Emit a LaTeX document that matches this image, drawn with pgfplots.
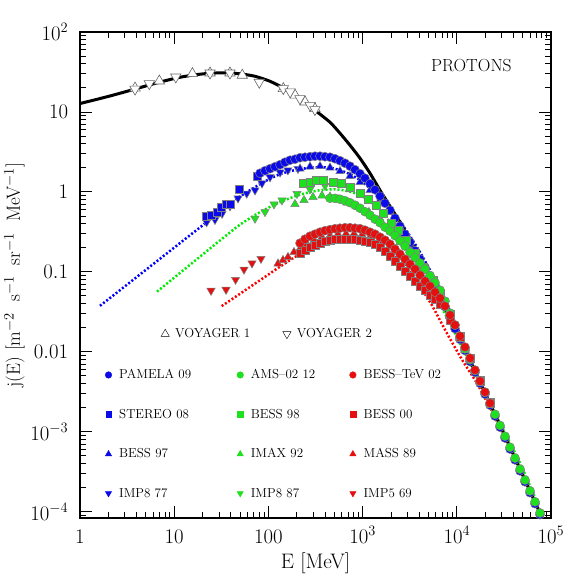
\documentclass[border=0pt]{standalone}
\usepackage{pgfplots}
\pgfplotsset{compat=1.18}
\definecolor{cB}{RGB}{10,10,235}
\definecolor{cG}{RGB}{30,225,30}
\definecolor{cR}{RGB}{230,15,15}
\definecolor{dB}{RGB}{0,0,255}
\definecolor{dG}{RGB}{0,235,0}
\definecolor{dR}{RGB}{255,0,0}
\pgfplotsset{
 dotline/.style={#1, line width=2.5pt, dash pattern=on 2pt off 2pt, smooth, tension=0.5, forget plot},
 mcirc/.style={only marks, forget plot, mark=*, mark size=4.5pt, mark options={fill=#1, draw=gray, line width=0.5pt}},
 msqr/.style={only marks, forget plot, mark=square*, mark size=4pt, mark options={fill=#1, draw=gray, line width=0.5pt}},
 mtup/.style={only marks, forget plot, mark=triangle*, mark size=4.8pt, mark options={fill=#1, draw=gray, line width=0.5pt}},
 mtdn/.style={only marks, forget plot, mark=triangle*, mark size=4.8pt, mark options={fill=#1, draw=gray, line width=0.5pt, rotate=180}},
}
\begin{document}
\begin{tikzpicture}
\begin{axis}[name=main,
 width=471pt, height=486pt, scale only axis, xmode=log, ymode=log,
 xmin=1, xmax=1e5, ymin=8.34e-5, ymax=100,
 xtick={1,10,100,1000,10000,100000},
 xticklabels={$1$,$10$,$100$,$10^3$,$10^4$,$10^5$},
 minor xtick={2,3,4,5,6,7,8,9,20,30,40,50,60,70,80,90,200,300,400,500,600,700,800,900,2000,3000,4000,5000,6000,7000,8000,9000,20000,30000,40000,50000,60000,70000,80000,90000},
 ytick={1e-4,1e-3,0.01,0.1,1,10,100},
 yticklabels={$10^{-4}$,$10^{-3}$,$0.01$,$0.1$,$1$,$10$,$10^2$},
 minor ytick={9e-5,2e-4,3e-4,4e-4,5e-4,6e-4,7e-4,8e-4,9e-4,2e-3,3e-3,4e-3,5e-3,6e-3,7e-3,8e-3,9e-3,0.02,0.03,0.04,0.05,0.06,0.07,0.08,0.09,0.2,0.3,0.4,0.5,0.6,0.7,0.8,0.9,2,3,4,5,6,7,8,9,20,30,40,50,60,70,80,90},
 tick align=inside,
 major tick length=12pt, minor tick length=6pt,
 every tick/.style={black, line width=0.9pt},
 axis line style={line width=1.2pt},
 tick label style={font=\fontsize{21}{25}\selectfont, inner sep=0pt},
 xticklabel style={anchor=base, yshift=-25pt},
 yticklabel style={anchor=east, xshift=-11.7pt},
 xlabel={E [MeV]},
 ylabel={j(E) [m$^{-2}$\; s$^{-1}$\; sr$^{-1}$\; MeV$^{-1}$]},
 xlabel style={at={(axis description cs:0.5,-0.103)}, anchor=base, font=\fontsize{21}{25}\selectfont, inner sep=0pt},
 ylabel style={at={(axis description cs:-0.1274,0.5)}, anchor=base, font=\fontsize{19}{23}\selectfont, inner sep=0pt},
 legend columns=3,
 legend image code/.code={\path[draw=none, fill=none] (0pt,0pt) -- (12.7pt,0pt); \draw[#1] plot coordinates {(4pt,0pt)};},
 legend style={draw=none, fill=none, inner sep=0pt, font=\fontsize{13}{15}\selectfont, row sep=24.8pt, column sep=0pt,
   at={(axis description cs:0.0516,0.3099)}, anchor=north west, cells={anchor=west}},
]
% modulated model spectra (dotted)
\addplot[dotline=dB] coordinates {(1.630,0.0376) (2.658,0.0590) (4.335,0.0928) (7.068,0.1458) (11.52,0.2291) (18.79,0.3599) (30.63,0.5656) (46.42,0.827) (63.78,1.050) (81.44,1.248) (104.0,1.462) (132.8,1.664) (169.6,1.815) (216.5,1.922) (276.4,2.007) (353.0,2.036) (450.7,2.007) (575.6,1.867) (734.9,1.664) (938.5,1.400) (1198,1.112) (1530,0.8584) (1954,0.6255) (2495,0.4302) (3186,0.2795) (4068,0.1763) (5194,0.105) (6632,0.0608) (8469,0.0323) (10810,0.01664) (13810,0.00834) (17630,0.00430) (22510,0.00228) (28750,0.00121) (36720,6.44e-4) (46880,3.42e-4) (59850,1.81e-4) (72780,1.11e-4)};
\addplot[dotline=dG] coordinates {(6.568,0.0566) (11.52,0.0969) (18.79,0.1549) (30.63,0.2469) (49.95,0.389) (81.44,0.558) (132.8,0.7434) (216.5,0.9226) (353.0,1.050) (575.6,1.065) (938.5,0.9093) (1530,0.590) (2495,0.2795) (4068,0.1112) (6632,0.0395) (10810,0.01284) (17630,0.00406) (28750,0.00128) (46880,4.06e-4) (69310,1.40e-4)};
\addplot[dotline=dR] coordinates {(31.93,0.0373) (49.95,0.0532) (81.44,0.0785) (132.8,0.1161) (216.5,0.1665) (353.0,0.2157) (575.6,0.2527) (938.5,0.2489) (1530,0.2065) (2495,0.140) (3428,0.0866) (5194,0.0420) (7870,0.0170) (11640,0.00760) (16380,0.00403) (22510,0.00200) (32490,8.2e-4) (46880,3.4e-4) (67630,1.36e-4)};
% local interstellar spectrum
\addplot[black, line width=3pt, smooth, tension=0.4, forget plot] coordinates {(1,12.74) (1.277,13.69) (1.630,14.71) (2.083,15.85) (2.658,17.13) (3.837,19.33) (5.535,21.88) (7.987,24.55) (11.52,27.15) (16.63,29.17) (23.99,30.46) (34.62,30.90) (49.95,30.02) (72.07,27.94) (104.0,24.20) (150.1,19.50) (216.5,14.84) (312.4,10.50) (450.7,7.435) (575.6,5.418) (734.9,3.835) (938.5,2.638) (1198,1.713) (1530,1.050) (1954,0.6627) (2495,0.4181) (3186,0.2489) (4068,0.1483) (5194,0.0859) (6632,0.0483) (8469,0.0264) (10810,0.0144) (17630,0.00418) (28750,0.00121) (46880,3.42e-4) (76420,9.63e-5)};
% blue group
\addplot[mtdn=cB] coordinates {(22.1,0.418) (27.1,0.449) (32.2,0.534) (39.1,0.663) (47.6,0.834) (58.9,0.955) (72.1,1.05) (85.5,1.28) (104,1.53) (133,1.76) (161,1.87) (206,1.95)};
\addplot[msqr=cB] coordinates {(22.1,0.497) (25.0,0.511) (28.3,0.562) (31.9,0.649) (36.1,0.702) (39.1,0.702) (49.1,1.07) (76.2,1.57)};
\addplot[mtup=cB] coordinates {(216.5,1.950) (276.4,2.065) (353.0,2.096) (450.7,2.007) (575.6,1.815) (734.9,1.571) (938.5,1.322) (1198,1.050) (1530,0.787) (1954,0.558) (2495,0.352) (3186,0.216) (4068,0.132) (5194,0.0810) (6632,0.0497) (8469,0.0279) (10810,0.0148)};
\addplot[mcirc=cB] coordinates {(81.44,1.713) (92.02,1.841) (104.0,1.950) (117.5,2.065) (132.8,2.188) (150.1,2.351) (169.6,2.490) (191.6,2.563) (216.5,2.676) (244.6,2.715) (276.4,2.754) (312.4,2.794) (353.0,2.794) (398.9,2.754) (450.7,2.715) (509.3,2.600) (575.6,2.455) (650.4,2.284) (734.9,2.096) (830.5,1.894) (938.5,1.689) (1060,1.483) (1198,1.266) (1354,1.065) (1530,0.884) (1729,0.722) (1954,0.590) (2208,0.469) (2495,0.373) (2819,0.296) (3186,0.235) (3600,0.184) (4068,0.144) (4597,0.113) (5194,0.0884) (5870,0.0682) (6632,0.0526) (7495,0.0367) (8469,0.0267) (9570,0.0195) (10810,0.0143) (12220,0.0104) (13810,0.00756) (15600,0.00553) (17630,0.00403) (19930,0.00295) (22510,0.00215) (25440,0.00157) (28750,0.00114) (32490,8.35e-4) (36720,6.08e-4) (41490,4.45e-4) (46880,3.24e-4) (52970,2.37e-4) (59850,1.73e-4) (67630,1.26e-4) (76420,9.2e-5)};
% green group
\addplot[mtdn=cG] coordinates {(72.07,0.465) (92.02,0.562) (114.7,0.702) (139.4,0.787) (201.2,0.950) (276.4,1.081) (398.9,1.195)};
\addplot[mtup=cG] coordinates {(191.6,0.702) (238.8,0.787) (297.5,0.859) (370.7,0.897) (450.7,0.871) (548.1,0.810) (682.9,0.733) (893.7,0.644) (1169,0.558) (1530,0.462) (1954,0.342) (2495,0.235) (3186,0.162) (4068,0.105) (5194,0.0682) (6632,0.0443) (8892,0.0235) (12220,0.0105)};
\addplot[msqr=cG] coordinates {(234.7,1.274) (276.4,1.334) (325.6,1.380) (382.6,1.380) (485.1,1.303) (600.0,1.274) (734.9,1.155) (938.5,0.955) (1149,0.810) (1412,0.682) (1659,0.542) (2037,0.406) (2393,0.332) (2939,0.249) (3600,0.171) (4410,0.1155) (5629,0.0787) (6632,0.0542) (8469,0.0296) (10810,0.0157) (13810,0.00834) (17630,0.00443) (22510,0.00235)};
\addplot[mcirc=cG] coordinates {(450.7,0.834) (509.3,0.829) (575.6,0.810) (650.4,0.776) (734.9,0.733) (830.5,0.682) (938.5,0.625) (1060,0.566) (1198,0.511) (1354,0.456) (1530,0.412) (1729,0.362) (1954,0.323) (2208,0.284) (2495,0.245) (2819,0.210) (3186,0.176) (3600,0.150) (4068,0.129) (4597,0.108) (5194,0.0896) (5870,0.0733) (6632,0.0590) (7495,0.0430) (8469,0.0305) (9570,0.0216) (10810,0.0150) (12220,0.0109) (13810,0.00796) (15600,0.00582) (17630,0.00424) (19930,0.00310) (22510,0.00226) (25440,0.00165) (28750,0.00120) (32490,8.79e-4) (36720,6.40e-4) (41490,4.68e-4) (46880,3.41e-4) (52970,2.49e-4) (59850,1.82e-4) (67630,1.33e-4) (76420,9.66e-5)};
% red group
\addplot[mtdn=cR] coordinates {(24.6,0.0582) (35.5,0.0599) (44.8,0.0799) (55.1,0.107) (67.0,0.128) (83.4,0.146)};
\addplot[mtup=cR] coordinates {(126.5,0.1266) (142.9,0.140) (161.5,0.1527) (187.0,0.1763) (216.5,0.1950) (256.9,0.2220) (304.9,0.2489) (370.7,0.2716) (450.7,0.2836) (548.1,0.2960) (666.5,0.3003) (810.3,0.3003) (985.4,0.2917) (1198,0.2716) (1457,0.2418)};
\addplot[msqr=cR] coordinates {(216.5,0.1713) (244.6,0.187) (276.4,0.2036) (312.4,0.216) (353.0,0.2285) (398.9,0.2385) (450.7,0.2455) (509.3,0.2527) (575.6,0.2564) (650.4,0.2564) (734.9,0.2564) (830.5,0.2527) (938.5,0.2489) (1060,0.2418) (1198,0.2317) (1354,0.2220) (1530,0.2036) (1729,0.1789) (1954,0.1572) (2208,0.1361) (2495,0.1178) (2819,0.1020) (3186,0.0884) (3600,0.0754) (4068,0.0663) (4597,0.0582) (5194,0.0512) (5870,0.0449) (6632,0.0395) (8469,0.0249) (10810,0.01527) (13810,0.00834) (17630,0.00430) (22510,0.00228)};
\addplot[mcirc=cR] coordinates {(216.5,0.2285) (244.6,0.2564) (276.4,0.2795) (312.4,0.2960) (353.0,0.3135) (398.9,0.3273) (450.7,0.3370) (509.3,0.3467) (575.6,0.3518) (650.4,0.3569) (734.9,0.3569) (830.5,0.3518) (938.5,0.3467) (1060,0.332) (1198,0.3135) (1354,0.2960) (1530,0.2716) (1729,0.2489) (1954,0.2220) (2208,0.1922) (2495,0.1665) (2819,0.1441) (3186,0.1248) (3600,0.1081) (4068,0.0909) (4597,0.0765) (5194,0.0663) (5870,0.0557) (6632,0.0469) (7495,0.0373) (8469,0.0288) (9570,0.0216) (10810,0.0157) (12220,0.01145) (13810,0.00834) (15600,0.00591) (17630,0.00430) (19930,0.00313) (22510,0.00228)};
% legend
\addlegendimage{only marks, mark=*, mark size=3.3pt, mark options={fill=cB, draw=cB}}
\addlegendentry{\makebox[115pt][l]{PAMELA 09}}
\addlegendimage{only marks, mark=*, mark size=3.3pt, mark options={fill=cG, draw=cG}}
\addlegendentry{\makebox[96pt][l]{AMS\textendash 02 12}}
\addlegendimage{only marks, mark=*, mark size=3.3pt, mark options={fill=cR, draw=cR}}
\addlegendentry{\makebox[80pt][l]{BESS\textendash TeV 02}}
\addlegendimage{only marks, mark=square*, mark size=2.8pt, mark options={fill=cB, draw=cB}}
\addlegendentry{\makebox[115pt][l]{STEREO 08}}
\addlegendimage{only marks, mark=square*, mark size=2.8pt, mark options={fill=cG, draw=cG}}
\addlegendentry{\makebox[96pt][l]{BESS 98}}
\addlegendimage{only marks, mark=square*, mark size=2.8pt, mark options={fill=cR, draw=cR}}
\addlegendentry{\makebox[80pt][l]{BESS 00}}
\addlegendimage{only marks, mark=triangle*, mark size=3.6pt, mark options={fill=cB, draw=cB}}
\addlegendentry{\makebox[115pt][l]{BESS 97}}
\addlegendimage{only marks, mark=triangle*, mark size=3.6pt, mark options={fill=cG, draw=cG}}
\addlegendentry{\makebox[96pt][l]{IMAX 92}}
\addlegendimage{only marks, mark=triangle*, mark size=3.6pt, mark options={fill=cR, draw=cR}}
\addlegendentry{\makebox[80pt][l]{MASS 89}}
\addlegendimage{only marks, mark=triangle*, mark size=3.6pt, mark options={fill=cB, draw=cB, rotate=180}}
\addlegendentry{\makebox[115pt][l]{IMP8 77}}
\addlegendimage{only marks, mark=triangle*, mark size=3.6pt, mark options={fill=cG, draw=cG, rotate=180}}
\addlegendentry{\makebox[96pt][l]{IMP8 87}}
\addlegendimage{only marks, mark=triangle*, mark size=3.6pt, mark options={fill=cR, draw=cR, rotate=180}}
\addlegendentry{\makebox[80pt][l]{IMP5 69}}
\node[anchor=base, font=\fontsize{17.5}{20}\selectfont, inner sep=0pt] at (axis description cs:0.831,0.918) {PROTONS};
\end{axis}
\begin{axis}[at={(main.south west)}, anchor=south west, hide axis,
 width=471pt, height=486pt, scale only axis, xmode=log, ymode=log,
 xmin=1, xmax=1e5, ymin=8.34e-5, ymax=100,
 legend columns=2,
 legend image code/.code={\path[draw=none, fill=none] (0pt,0pt) -- (13pt,0pt); \draw[#1] plot coordinates {(5pt,0pt)};},
 legend style={draw=none, fill=none, inner sep=0pt, font=\fontsize{13}{15}\selectfont, column sep=0pt,
   at={(axis description cs:0.1699,0.3942)}, anchor=north west, cells={anchor=west}},
]
\addplot[only marks, forget plot, mark=triangle*, mark size=6pt, mark options={fill=white, draw=black!60, line width=0.6pt}] coordinates {(3.84,19.9) (6.95,24.4) (15.6,30.2) (24.0,30.7) (39.1,30.7) (52.8,28.8) (144,19.6) (192,16.2) (245,13.3) (312,11.0)};
\addplot[only marks, forget plot, mark=triangle*, mark size=6pt, mark options={fill=white, draw=black!60, line width=0.6pt, rotate=180}] coordinates {(3.84,19.3) (5.44,22.6) (10.4,27.4) (24.0,30.7) (39.1,30.7) (80.0,23.5) (144,19.6) (170,17.8) (216,14.7) (277,12.1) (312,10.7)};
\addlegendimage{only marks, mark=triangle, mark size=4.8pt, mark options={draw=black, line width=0.4pt}}
\addlegendentry{\makebox[104.7pt][l]{VOYAGER 1}}
\addlegendimage{only marks, mark=triangle, mark size=4.8pt, mark options={draw=black, line width=0.4pt, rotate=180}}
\addlegendentry{VOYAGER 2}
\end{axis}
\path (main.south west) ++(-80pt,-63pt) rectangle ++(581pt,581pt);
\end{tikzpicture}
\end{document}
